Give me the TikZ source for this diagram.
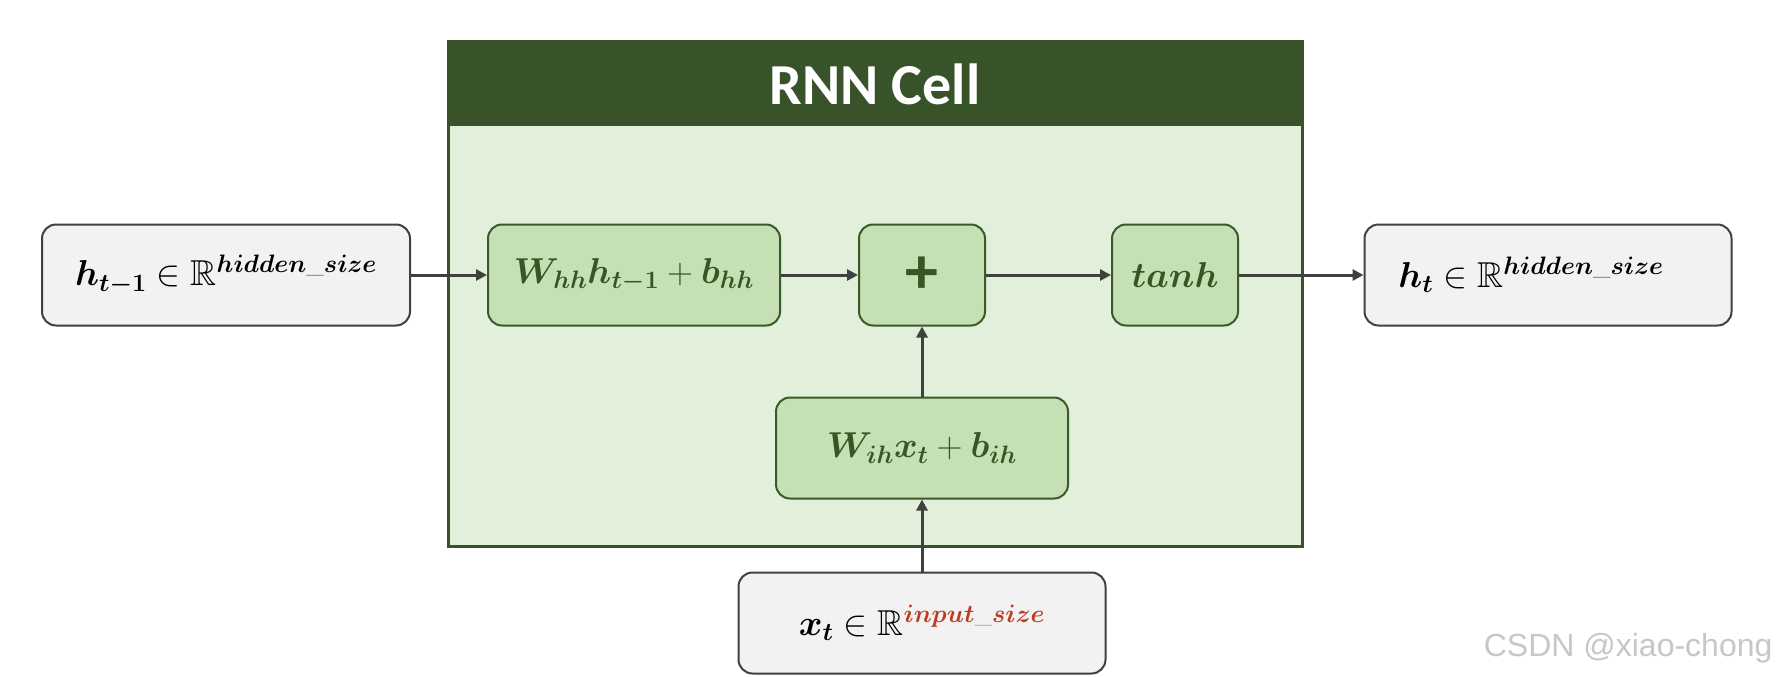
\RequirePackage{fix-cm}
\documentclass[tikz,border=0pt]{standalone}
\usepackage{amsmath,amssymb,bm}
% blackboard letters at any size
\DeclareFontFamily{U}{msb}{}
\DeclareFontShape{U}{msb}{m}{n}{<-> msbm10}{}
\usepackage{fontspec}
\newfontfamily\titlefont{Carlito}
\newfontfamily\markfont{Liberation Sans}
\usetikzlibrary{arrows.meta}

\definecolor{cellhead}{HTML}{38532A}
\definecolor{cellfill}{HTML}{E2EFDA}
\definecolor{opfill}{HTML}{C5E0B4}
\definecolor{opline}{HTML}{3A5A2A}
\definecolor{optext}{HTML}{375623}
\definecolor{iofill}{HTML}{F2F2F2}
\definecolor{ioline}{HTML}{404040}
\definecolor{wire}{HTML}{404040}
\definecolor{dimred}{HTML}{BF3A1F}

\tikzset{
  iobox/.style={draw=ioline, fill=iofill, line width=2pt, rounded corners=14pt,
    minimum height=101pt, inner sep=0pt,
    font=\fontsize{36}{40}\selectfont},
  opbox/.style={draw=opline, fill=opfill, line width=2pt, rounded corners=14pt,
    minimum height=101pt, inner sep=0pt, text=optext,
    font=\fontsize{36}{40}\selectfont},
  flow/.style={draw=wire, line width=3pt,
    -{Triangle[length=11pt,width=11pt]}},
}

\begin{document}
\begin{tikzpicture}[x=1pt,y=-1pt]
  \useasboundingbox (0,0) rectangle (1777,677);
  \fill[white] (0,0) rectangle (1777,677);

  % the cell: light body with a dark title band
  \draw[fill=cellfill, draw=cellhead, line width=3pt] (448,42) rectangle (1302,546);
  \fill[cellhead] (448,42) rectangle (1302,126);
  \node[text=white, font=\titlefont\bfseries\fontsize{58}{64}\selectfont] (title) at (875,84) {RNN Cell};

  % inputs and output
  \node[iobox, minimum width=368pt] (hprev) at (226,275)
    {$\bm{h}_{\bm{t-1}}\in\mathbb{R}^{\bm{hidden\_size}}$};
  \node[iobox, minimum width=367pt] (hnext) at (1548,275)
    {$\bm{h}_{\bm{t}}\in\mathbb{R}^{\bm{hidden\_size}}$\hspace*{34pt}};
  \node[iobox, minimum width=367pt] (xt) at (922,623)
    {$\bm{x}_{\bm{t}}\in\mathbb{R}^{\color{dimred}\bm{input\_size}}$};

  % operations inside the cell
  \node[opbox, minimum width=292pt] (whh) at (634,275)
    {$\bm{W}_{\bm{hh}}\bm{h}_{\bm{t-1}}+\bm{b}_{\bm{hh}}$};
  \node[opbox, minimum width=126pt, font=\titlefont\bfseries\fontsize{66}{66}\selectfont] (plus) at (922,275) {+};
  \node[opbox, minimum width=126pt] (tanh) at (1175,275) {$\bm{tanh}$};
  \node[opbox, minimum width=292pt] (wih) at (922,448)
    {$\bm{W}_{\bm{ih}}\bm{x}_{\bm{t}}+\bm{b}_{\bm{ih}}$};

  % data flow
  \draw[flow] (hprev) -- (whh);
  \draw[flow] (whh) -- (plus);
  \draw[flow] (plus) -- (tanh);
  \draw[flow] (tanh) -- (hnext);
  \draw[flow] (wih) -- (plus);
  \draw[flow] (xt) -- (wih);

  % watermark
  \node[text=black!22, font=\markfont\fontsize{32}{36}\selectfont, anchor=east] (mark) at (1776,648) {CSDN @xiao-chong};
\end{tikzpicture}
\end{document}
